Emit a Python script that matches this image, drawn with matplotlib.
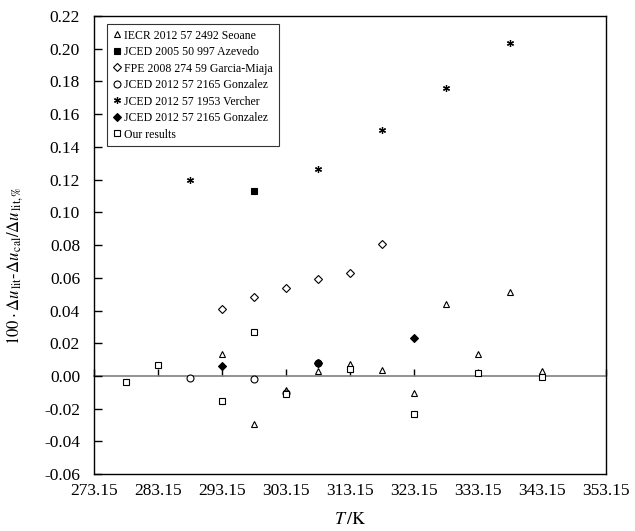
import matplotlib
matplotlib.use('Agg')
from matplotlib import pyplot as plt
from matplotlib.ticker import MultipleLocator, FormatStrFormatter

plt.rcParams['font.family'] = ['Liberation Serif', 'DejaVu Serif']
plt.rcParams['mathtext.fontset'] = 'stix'

# deviations, 100*(du_lit - du_cal)/du_lit, per source
t_seoane = [293.15, 298.15, 303.15, 308.15, 313.15, 318.15, 323.15, 328.15, 333.15, 338.15, 343.15]
d_seoane = [0.0136, -0.0295, -0.0088, 0.0030, 0.0071, 0.0034, -0.0102, 0.0439, 0.0136, 0.0512, 0.0032]

t_azevedo = [298.15]
d_azevedo = [0.113]

t_garcia = [293.15, 298.15, 303.15, 308.15, 313.15, 318.15]
d_garcia = [0.0412, 0.0481, 0.0539, 0.0591, 0.0628, 0.0807]

t_gonz1 = [288.15, 298.15, 303.15, 308.15]
d_gonz1 = [-0.0010, -0.0019, -0.0105, 0.0078]

t_vercher = [288.15, 308.15, 318.15, 328.15, 338.15]
d_vercher = [0.120, 0.1265, 0.1505, 0.176, 0.2034]

t_gonz2 = [293.15, 308.15, 323.15]
d_gonz2 = [0.0059, 0.0081, 0.0235]

t_ours = [278.15, 283.15, 293.15, 298.15, 303.15, 313.15, 323.15, 333.15, 343.15]
d_ours = [-0.0035, 0.0065, -0.0151, 0.0270, -0.0108, 0.0044, -0.0230, 0.0016, -0.0007]

fig = plt.figure(figsize=(6.35, 5.31), dpi=100)
ax = fig.add_axes([0.148, 0.107, 0.806, 0.863])

ms = 5
ax.plot(t_seoane, d_seoane, ls='none', marker='^', ms=ms, mfc='white', mec='black', mew=0.8,
        label='IECR 2012 57 2492 Seoane')
ax.plot(t_azevedo, d_azevedo, ls='none', marker='s', ms=ms, mfc='black', mec='black', mew=0.8,
        label='JCED 2005 50 997 Azevedo')
ax.plot(t_garcia, d_garcia, ls='none', marker='D', ms=ms - 0.5, mfc='white', mec='black', mew=0.8,
        label='FPE 2008 274 59 Garcia-Miaja')
ax.plot(t_gonz1, d_gonz1, ls='none', marker='o', ms=ms, mfc='white', mec='black', mew=0.8,
        label='JCED 2012 57 2165 Gonzalez')
ax.plot(t_vercher, d_vercher, ls='none', marker=(6, 2, 0), ms=ms, mec='black', mew=0.9,
        label='JCED 2012 57 1953 Vercher')
ax.plot(t_gonz2, d_gonz2, ls='none', marker='D', ms=ms - 0.5, mfc='black', mec='black', mew=0.8,
        label='JCED 2012 57 2165 Gonzalez')
ax.plot(t_ours, d_ours, ls='none', marker='s', ms=ms, mfc='white', mec='black', mew=0.8,
        label='Our results')

ax.set_xlim(273.15, 353.15)
ax.set_ylim(-0.06, 0.22)
ax.xaxis.set_major_locator(MultipleLocator(10, offset=3.15))
ax.yaxis.set_major_locator(MultipleLocator(0.02))
ax.xaxis.set_major_formatter(FormatStrFormatter('%.2f'))
ax.yaxis.set_major_formatter(FormatStrFormatter('%.2f'))
ax.tick_params(axis='x', length=0, pad=6, labelsize=12.5)
ax.tick_params(axis='y', direction='in', length=6, width=1, pad=10, labelsize=12.5)
for sp in ax.spines.values():
    sp.set_linewidth(1.0)

# horizontal axis drawn through zero with upward ticks
zero_axis = ax.secondary_xaxis(0, transform=ax.transData)
zero_axis.spines['bottom'].set_color('#808080')
zero_axis.spines['bottom'].set_linewidth(1.2)
zero_axis.xaxis.set_major_locator(MultipleLocator(10, offset=3.15))
zero_axis.tick_params(axis='x', direction='in', length=5, width=1, colors='black', labelbottom=False)

ax.set_xlabel(r'$T\,/\mathrm{K}$', fontsize=13)
ax.xaxis.set_label_coords(0.5, -0.08)
ax.set_ylabel(r'$100\cdot\Delta u_{\,\mathrm{lit}}\text{-}\Delta u_{\,\mathrm{cal}}/\Delta u_{\,\mathrm{lit,\%}}$',
              fontsize=12)
ax.yaxis.set_label_coords(-0.135, 0.456)

leg = ax.legend(loc='upper left', bbox_to_anchor=(0.025, 0.983), fontsize=8.5, frameon=True,
                fancybox=False, edgecolor='black', handlelength=0.7, handletextpad=0.3,
                labelspacing=0.38, borderpad=0.5, borderaxespad=0)
leg.get_frame().set_linewidth(0.8)

fig.savefig('out.png', dpi=100)
